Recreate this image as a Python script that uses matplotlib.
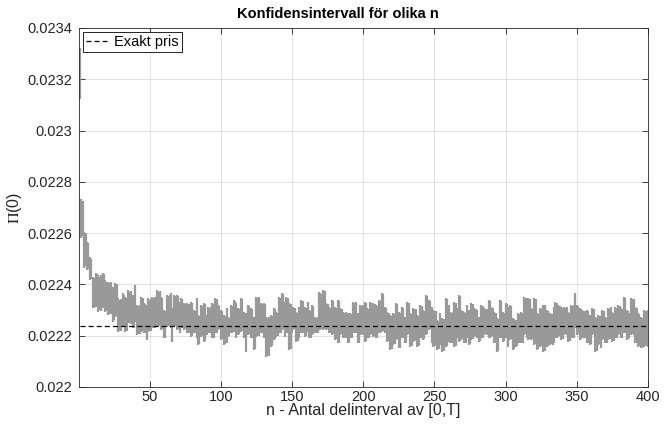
import matplotlib
matplotlib.use("Agg")
import matplotlib.pyplot as plt
import numpy as np
from matplotlib.ticker import FuncFormatter, MultipleLocator

# Confidence intervals (values in units of 1e-6), n = 1..400
ci_low = [
    23123, 22580, 22590, 22463, 22470, 22456, 22460, 22417, 22420, 22307,
    22310, 22313, 22320, 22294, 22300, 22296, 22307, 22310, 22294, 22298,
    22281, 22285, 22283, 22255, 22260, 22274, 22278, 22216, 22220, 22218,
    22235, 22238, 22216, 22220, 22248, 22250, 22246, 22229, 22232, 22255,
    22203, 22206, 22205, 22216, 22220, 22209, 22212, 22183, 22216, 22220,
    22218, 22229, 22232, 22230, 22235, 22238, 22236, 22222, 22225, 22190,
    22193, 22235, 22238, 22236, 22230, 22177, 22235, 22238, 22222, 22225,
    22209, 22229, 22232, 22222, 22225, 22209, 22212, 22210, 22196, 22200,
    22209, 22212, 22190, 22164, 22168, 22196, 22200, 22177, 22180, 22203,
    22209, 22212, 22210, 22190, 22193, 22209, 22212, 22222, 22225, 22183,
    22186, 22164, 22168, 22170, 22196, 22200, 22209, 22212, 22216, 22220,
    22190, 22203, 22206, 22216, 22220, 22190, 22193, 22138, 22203, 22206,
    22190, 22193, 22144, 22148, 22196, 22200, 22198, 22209, 22212, 22190,
    22193, 22118, 22122, 22120, 22157, 22160, 22183, 22186, 22196, 22199,
    22209, 22212, 22222, 22225, 22196, 22209, 22212, 22144, 22147, 22209,
    22222, 22225, 22177, 22180, 22190, 22209, 22212, 22210, 22196, 22199,
    22216, 22190, 22193, 22203, 22206, 22209, 22212, 22210, 22229, 22222,
    22225, 22222, 22225, 22222, 22225, 22209, 22212, 22203, 22206, 22183,
    22186, 22170, 22173, 22203, 22206, 22190, 22193, 22191, 22170, 22173,
    22190, 22193, 22209, 22212, 22210, 22170, 22173, 22203, 22206, 22204,
    22177, 22180, 22190, 22193, 22203, 22206, 22196, 22199, 22190, 22193,
    22209, 22212, 22216, 22219, 22209, 22212, 22177, 22180, 22144, 22147,
    22164, 22167, 22183, 22186, 22151, 22154, 22190, 22193, 22170, 22173,
    22203, 22206, 22157, 22160, 22177, 22180, 22178, 22157, 22160, 22190,
    22193, 22183, 22186, 22203, 22206, 22222, 22225, 22170, 22157, 22160,
    22158, 22144, 22147, 22164, 22138, 22141, 22139, 22157, 22160, 22177,
    22170, 22173, 22171, 22157, 22160, 22190, 22177, 22180, 22183, 22186,
    22170, 22173, 22190, 22164, 22167, 22183, 22186, 22196, 22199, 22190,
    22177, 22180, 22190, 22193, 22203, 22206, 22204, 22190, 22193, 22196,
    22199, 22170, 22173, 22138, 22141, 22190, 22193, 22177, 22180, 22190,
    22193, 22157, 22183, 22186, 22144, 22147, 22157, 22160, 22170, 22173,
    22170, 22173, 22203, 22206, 22190, 22183, 22186, 22183, 22186, 22164,
    22167, 22144, 22147, 22157, 22160, 22138, 22141, 22139, 22157, 22160,
    22164, 22167, 22165, 22170, 22190, 22193, 22196, 22199, 22183, 22186,
    22203, 22206, 22204, 22177, 22180, 22190, 22193, 22191, 22229, 22203,
    22206, 22183, 22186, 22190, 22193, 22191, 22170, 22173, 22164, 22167,
    22203, 22206, 22138, 22141, 22164, 22167, 22151, 22183, 22186, 22170,
    22173, 22183, 22186, 22190, 22177, 22180, 22190, 22193, 22203, 22206,
    22190, 22193, 22209, 22212, 22183, 22186, 22190, 22203, 22206, 22204,
    22170, 22173, 22157, 22160, 22151, 22154, 22157, 22160, 22158, 22157,
]
ci_high = [
    23322, 22733, 22725, 22606, 22600, 22567, 22560, 22508, 22500, 22430,
    22425, 22443, 22440, 22437, 22430, 22435, 22443, 22440, 22417, 22410,
    22411, 22405, 22408, 22391, 22385, 22404, 22400, 22346, 22340, 22344,
    22365, 22360, 22352, 22348, 22378, 22372, 22375, 22359, 22355, 22398,
    22320, 22316, 22318, 22352, 22348, 22326, 22322, 22320, 22346, 22340,
    22344, 22352, 22348, 22350, 22378, 22372, 22375, 22352, 22348, 22300,
    22296, 22359, 22355, 22357, 22365, 22310, 22359, 22355, 22359, 22355,
    22333, 22346, 22342, 22326, 22322, 22326, 22322, 22324, 22333, 22328,
    22300, 22296, 22346, 22281, 22278, 22320, 22316, 22326, 22322, 22281,
    22313, 22310, 22311, 22326, 22322, 22346, 22342, 22320, 22316, 22300,
    22296, 22281, 22278, 22307, 22274, 22270, 22320, 22316, 22339, 22335,
    22326, 22307, 22303, 22346, 22342, 22294, 22290, 22287, 22320, 22316,
    22307, 22303, 22274, 22270, 22352, 22348, 22350, 22326, 22322, 22326,
    22322, 22274, 22270, 22272, 22281, 22278, 22307, 22303, 22294, 22290,
    22352, 22348, 22365, 22361, 22333, 22352, 22348, 22326, 22322, 22287,
    22313, 22310, 22294, 22290, 22313, 22339, 22335, 22337, 22313, 22310,
    22333, 22300, 22296, 22320, 22316, 22274, 22270, 22272, 22372, 22365,
    22361, 22378, 22374, 22326, 22322, 22313, 22310, 22339, 22335, 22313,
    22310, 22339, 22335, 22307, 22303, 22294, 22290, 22292, 22287, 22283,
    22287, 22283, 22333, 22329, 22331, 22287, 22283, 22320, 22316, 22318,
    22333, 22329, 22307, 22303, 22333, 22329, 22326, 22322, 22320, 22316,
    22339, 22335, 22365, 22361, 22313, 22310, 22294, 22290, 22281, 22278,
    22287, 22283, 22326, 22322, 22294, 22290, 22313, 22310, 22274, 22270,
    22333, 22329, 22287, 22283, 22307, 22303, 22305, 22281, 22278, 22320,
    22316, 22300, 22296, 22359, 22355, 22339, 22335, 22313, 22300, 22296,
    22298, 22261, 22258, 22287, 22268, 22264, 22266, 22346, 22342, 22320,
    22294, 22290, 22292, 22333, 22329, 22307, 22359, 22355, 22300, 22296,
    22294, 22290, 22320, 22300, 22296, 22326, 22322, 22307, 22303, 22300,
    22274, 22270, 22320, 22316, 22307, 22303, 22305, 22339, 22335, 22313,
    22310, 22294, 22290, 22268, 22264, 22339, 22335, 22294, 22290, 22326,
    22322, 22313, 22320, 22316, 22268, 22264, 22261, 22258, 22287, 22283,
    22294, 22290, 22352, 22348, 22307, 22346, 22342, 22307, 22303, 22346,
    22342, 22287, 22283, 22307, 22303, 22320, 22316, 22318, 22300, 22296,
    22287, 22283, 22285, 22313, 22333, 22329, 22320, 22316, 22313, 22310,
    22313, 22310, 22311, 22294, 22290, 22320, 22316, 22318, 22365, 22320,
    22316, 22307, 22303, 22300, 22296, 22298, 22300, 22296, 22281, 22278,
    22307, 22303, 22274, 22270, 22281, 22278, 22255, 22300, 22296, 22274,
    22270, 22307, 22303, 22313, 22294, 22290, 22313, 22310, 22320, 22316,
    22307, 22303, 22352, 22348, 22300, 22296, 22287, 22346, 22342, 22344,
    22313, 22310, 22287, 22283, 22274, 22270, 22300, 22296, 22298, 22300,
]
exact_price = 0.022238
n_values = np.arange(1, len(ci_low) + 1)
xticks = [50, 100, 150, 200, 250, 300, 350, 400]

title = "Konfidensintervall för olika n"
xlabel = "n - Antal delinterval av [0,T]"
ylabel = r"$\Pi$(0)"
legend_label = "Exakt pris"

plt.rcParams["font.family"] = ["Liberation Sans", "DejaVu Sans"]
plt.rcParams["mathtext.fontset"] = "stix"

lo = np.array(ci_low) * 1e-6
hi = np.array(ci_high) * 1e-6

fig = plt.figure(figsize=(6.72, 4.25), dpi=100)
ax = fig.add_axes([79 / 672, 1 - 387 / 425, (648 - 79) / 672, (387 - 28) / 425])

dark = (0.15, 0.15, 0.15)
ax.vlines(n_values, lo, hi, colors="#999999", linewidth=1.6, capstyle="butt", zorder=2)
ax.plot([n_values[0], n_values[-1]], [exact_price, exact_price], color="black",
        linestyle=(0, (4, 2.5)), linewidth=0.9, zorder=3, label=legend_label)

ax.set_xlim(0.4, 400)
ax.set_ylim(0.022, 0.0234)
ax.set_xticks(xticks)
ax.yaxis.set_major_locator(MultipleLocator(0.0002))
ax.yaxis.set_major_formatter(FuncFormatter(lambda v, p: ("%.4f" % v).rstrip("0")))

ax.grid(True, color=dark, alpha=0.15, linewidth=0.6, zorder=0)
ax.set_axisbelow(True)
ax.tick_params(direction="in", top=True, right=True, length=4, width=0.6,
               colors=dark, labelsize=10.5, labelcolor=dark)
ax.tick_params(axis="y", pad=5)
ax.tick_params(axis="x", pad=2.5)
for s in ax.spines.values():
    s.set_color(dark)
    s.set_linewidth(0.6)

fig.text(338 / 672, 1 - 14 / 425, title, fontsize=10.5, fontweight="bold",
         color="black", ha="center", va="center")
fig.text(363 / 672, 1 - 411 / 425, xlabel, fontsize=11.5, color=dark,
         ha="center", va="center")
ax.set_ylabel(ylabel, fontsize=11.5, color=dark, labelpad=2)

leg = ax.legend(loc="upper left", fontsize=10.5, frameon=True, fancybox=False,
                borderaxespad=0.3, handlelength=1.4, handletextpad=0.5,
                borderpad=0.2)
leg.get_frame().set_edgecolor("black")
leg.get_frame().set_linewidth(0.6)
leg.get_frame().set_alpha(1)

fig.savefig("out.png", dpi=100)
